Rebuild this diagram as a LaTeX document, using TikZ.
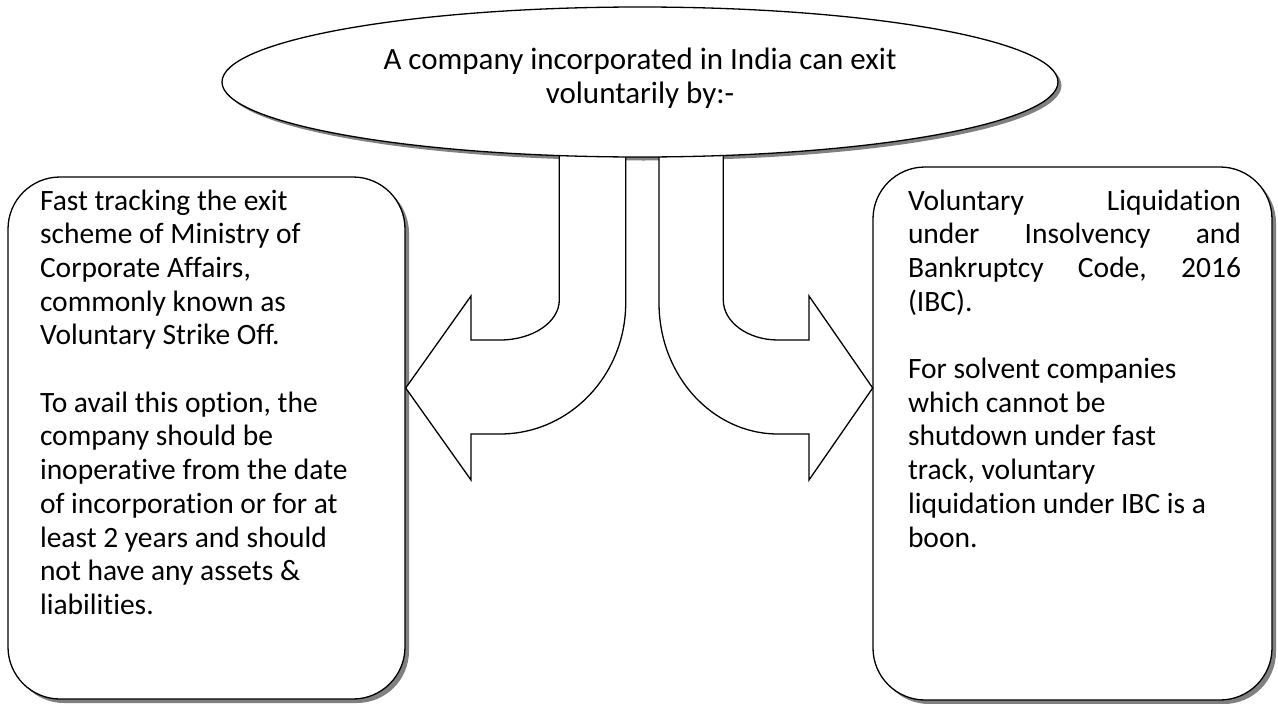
\documentclass[tikz,border=0pt]{standalone}
\usepackage{fontspec}
\setmainfont[Ligatures={NoCommon}]{Carlito}
\usetikzlibrary{shapes.geometric}
\definecolor{shadowgray}{RGB}{128,128,128}
\newcommand{\jline}[1]{\leavevmode\hbox to 333pt{#1}}
\tikzset{
  outline/.style={draw=black, line width=1.3pt, fill=white},
  boxshape/.style={outline, rounded corners=52pt, inner sep=0pt, outer sep=0pt},
  boxshadow/.style={fill=shadowgray, rounded corners=52pt, inner sep=0pt, outer sep=0pt},
  bodytext/.style={inner sep=0pt, outer sep=0pt, anchor=base west,
     font=\fontsize{29.5pt}{33.7pt}\selectfont},
}
\begin{document}
\begin{tikzpicture}[x=1pt,y=-1pt]
\useasboundingbox (0,0) rectangle (1278,704);
\fill[white] (0,0) rectangle (1278,704);

% side boxes with shadows
\node[boxshadow, minimum width=397pt, minimum height=522pt] (leftshadow) at (210.5,442) {};
\node[boxshape, minimum width=397pt, minimum height=522pt] (leftbox) at (206.5,438) {};
\node[boxshadow, minimum width=399pt, minimum height=533pt] (rightshadow) at (1076.5,437.5) {};
\node[boxshape, minimum width=399pt, minimum height=533pt] (rightbox) at (1072.5,433.5) {};

% ellipse shadow
\node[ellipse, fill=shadowgray, inner sep=0pt, minimum width=836pt, minimum height=150pt] (topshadow) at (643.5,85.5) {};

% block arrows
\draw[outline, line join=miter]
  (559.3,140) -- (559.3,300) .. controls (559.3,322.1) and (532.8,340) .. (500,340)
  -- (471,340) -- (471,296) -- (405.7,388) -- (471,480) -- (471,434) -- (500,434)
  .. controls (569.4,434) and (625.7,375.4) .. (625.7,303) -- (625.7,140) -- cycle;
\draw[outline, line join=miter]
  (659,140) -- (659,303) .. controls (659,375.4) and (712.3,434) .. (778,434)
  -- (809,434) -- (809,480) -- (872.7,388) -- (809,296) -- (809,340) -- (778,340)
  .. controls (747.8,340) and (723.3,322.1) .. (723.3,300) -- (723.3,140) -- cycle;

% top ellipse
\node[ellipse, outline, inner sep=0pt, minimum width=836pt, minimum height=150pt] (top) at (640,82) {};
\node[inner sep=0pt, align=center, font=\fontsize{31pt}{34.5pt}\selectfont] (toptext) at (640,78)
  {A company incorporated in India can exit\\voluntarily by:-};

% texts
\node[bodytext] (lefttext) at (40,210) {\parbox[t]{360pt}{\raggedright
Fast tracking the exit\\
scheme of Ministry of\\
Corporate Affairs,\\
commonly known as\\
Voluntary Strike Off.\\[33.7pt]
To avail this option, the\\
company should be\\
inoperative from the date\\
of incorporation or for at\\
least 2 years and should\\
not have any assets \&\\
liabilities.}};

\node[bodytext] (righttext) at (908,210) {\parbox[t]{333pt}{\raggedright
\jline{Voluntary\hfill Liquidation}\\
\jline{under\hfill Insolvency\hfill and}\\
\jline{Bankruptcy\hfill Code,\hfill 2016}\\
(IBC).\\[33.7pt]
For solvent companies\\
which cannot be\\
shutdown under fast\\
track, voluntary\\
liquidation under IBC is a\\
boon.}};
\end{tikzpicture}
\end{document}
